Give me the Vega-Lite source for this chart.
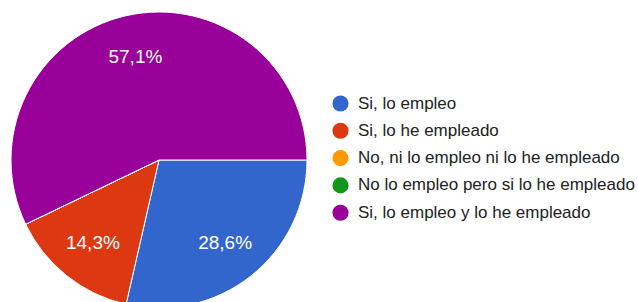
{
  "$schema": "https://vega.github.io/schema/vega-lite/v6.json",
  "width": 318,
  "height": 320,
  "padding": 0,
  "autosize": {"type": "pad"},
  "background": "white",
  "data": {
    "values": [
      {"idx": 1, "respuesta": "Si, lo empleo", "valor": 2, "etiqueta": "28,6%"},
      {"idx": 2, "respuesta": "Si, lo he empleado", "valor": 1, "etiqueta": "14,3%"},
      {"idx": 3, "respuesta": "No, ni lo empleo ni lo he empleado", "valor": 0, "etiqueta": ""},
      {"idx": 4, "respuesta": "No lo empleo pero si lo he empleado", "valor": 0, "etiqueta": ""},
      {"idx": 5, "respuesta": "Si, lo empleo y lo he empleado", "valor": 4, "etiqueta": "57,1%"}
    ]
  },
  "encoding": {
    "theta": {"field": "valor", "type": "quantitative", "stack": true, "scale": {"range": [1.5708, 7.854]}},
    "order": {"field": "idx", "type": "quantitative"},
    "color": {
      "field": "respuesta",
      "type": "nominal",
      "scale": {
        "domain": ["Si, lo empleo", "Si, lo he empleado", "No, ni lo empleo ni lo he empleado", "No lo empleo pero si lo he empleado", "Si, lo empleo y lo he empleado"],
        "range": ["#3366cc", "#dc3912", "#ff9900", "#109618", "#990099"]
      },
      "legend": {
        "title": null,
        "orient": "none",
        "legendX": 332,
        "legendY": 95,
        "symbolType": "circle",
        "symbolSize": 260,
        "symbolStrokeWidth": 0,
        "labelFont": "Liberation Sans",
        "labelFontSize": 17,
        "labelColor": "#222222",
        "rowPadding": 9.3,
        "labelOffset": 9,
        "labelLimit": 400
      }
    }
  },
  "layer": [
    {"mark": {"type": "arc", "outerRadius": 148, "stroke": "white", "strokeWidth": 1}},
    {
      "transform": [{"filter": "datum.valor > 0"}],
      "mark": {"type": "text", "radius": 106, "font": "Liberation Sans", "fontSize": 19, "fill": "white", "baseline": "middle", "align": "center"},
      "encoding": {"text": {"field": "etiqueta"}, "color": {"value": "white"}}
    }
  ]
}
